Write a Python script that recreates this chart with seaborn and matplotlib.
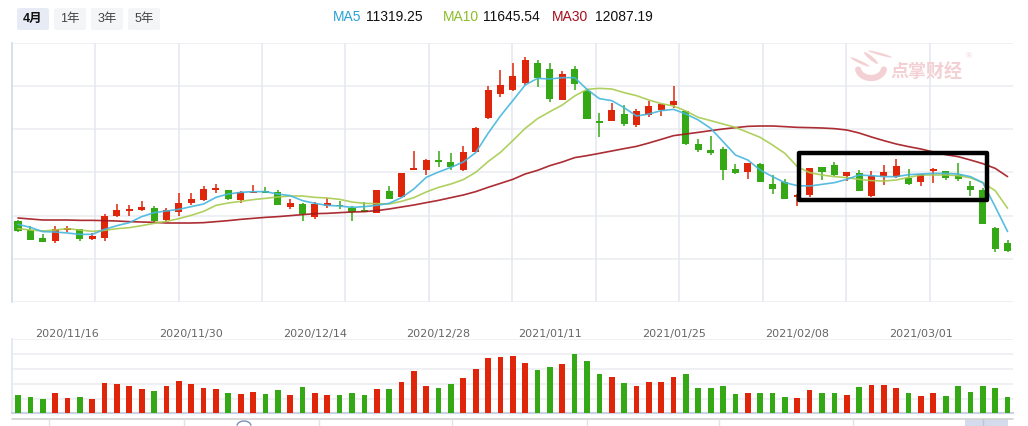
import numpy as np
import matplotlib
matplotlib.use("Agg")
import matplotlib.pyplot as plt
import matplotlib.transforms as mtransforms
from matplotlib.patches import Rectangle, FancyBboxPatch, Ellipse, Wedge
from matplotlib.lines import Line2D
import seaborn as sns

# ---------------- data ----------------
opens = [11466, 11340, 11228, 11191, 11340, 11354, 11214, 11228, 11536, 11606,
         11620, 11653, 11480, 11597, 11718, 11760, 11900, 11900, 11760, 11858,
         11886, 11872, 11667, 11704, 11527, 11681, 11695, 11653, 11620, 11583,
         11886, 11802, 12185, 12185, 12320, 12292, 12185, 12437, 12908, 13249,
         13300, 13403, 13678, 13594, 13165, 13594, 13286, 12866, 12871, 12964,
         12815, 12955, 13025, 13090, 13006, 12544, 12460, 12474, 12194, 12157,
         12264, 11984, 12012, 11807, 11835, 12222, 12245, 12096, 12138, 11821,
         12101, 12087, 12073, 12017, 12171, 12166, 12115, 11961, 11905, 11373,
         11158]
highs = [11480, 11396, 11284, 11396, 11396, 11360, 11303, 11569, 11709, 11695,
         11746, 11681, 11648, 11858, 11858, 11961, 11984, 11905, 11891, 11970,
         11942, 11905, 11774, 11723, 11732, 11783, 11746, 11681, 11727, 11905,
         11961, 12140, 12451, 12339, 12446, 12418, 12516, 12782, 13356, 13580,
         13678, 13762, 13720, 13678, 13566, 13636, 13300, 12978, 13118, 13090,
         13034, 13146, 13110, 13356, 13010, 12614, 12651, 12507, 12264, 12283,
         12273, 12115, 12059, 11849, 12213, 12227, 12292, 12157, 12180, 12166,
         12250, 12334, 12194, 12129, 12208, 12171, 12278, 12026, 11928, 11378,
         11200]
lows = [11312, 11195, 11167, 11163, 11307, 11186, 11200, 11186, 11527, 11536,
        11606, 11457, 11452, 11536, 11690, 11751, 11858, 11760, 11723, 11853,
        11853, 11685, 11634, 11466, 11494, 11653, 11634, 11466, 11590, 11573,
        11770, 11795, 12180, 12115, 12227, 12185, 12171, 12427, 12899, 13207,
        13286, 13375, 13347, 13132, 13160, 13305, 12894, 12647, 12861, 12801,
        12787, 12927, 12941, 13048, 12530, 12437, 12395, 12045, 12129, 12059,
        12012, 11849, 11774, 11681, 11807, 12045, 12101, 12031, 11886, 11807,
        11975, 12073, 11975, 11961, 12003, 12045, 12031, 11821, 11424, 11037,
        11027]
closes = [11331, 11200, 11177, 11354, 11373, 11214, 11261, 11541, 11620, 11634,
          11662, 11466, 11620, 11718, 11774, 11914, 11928, 11774, 11872, 11877,
          11858, 11695, 11718, 11564, 11709, 11718, 11671, 11597, 11597, 11900,
          11774, 12138, 12208, 12320, 12297, 12227, 12432, 12768, 13300, 13370,
          13496, 13720, 13473, 13179, 13524, 13389, 12899, 12843, 13020, 12829,
          13006, 13076, 13104, 13146, 12544, 12465, 12423, 12185, 12143, 12278,
          12017, 11919, 11779, 11821, 12208, 12157, 12115, 12152, 11891, 12091,
          12152, 12236, 11989, 12124, 12185, 12073, 12059, 11905, 11429, 11079,
          11041]
ma5 = [11419, 11377, 11317, 11312, 11298, 11279, 11279, 11349, 11401, 11443,
       11527, 11583, 11606, 11629, 11667, 11704, 11797, 11844, 11867, 11877,
       11877, 11844, 11821, 11751, 11713, 11685, 11676, 11657, 11667, 11685,
       11713, 11793, 11914, 12077, 12152, 12217, 12292, 12423, 12693, 12936,
       13151, 13370, 13463, 13454, 13473, 13473, 13309, 13179, 13151, 13053,
       12936, 12964, 13011, 13029, 12964, 12880, 12763, 12577, 12390, 12320,
       12180, 12087, 12003, 11961, 11956, 11979, 12003, 12049, 12110, 12101,
       12087, 12087, 12115, 12124, 12133, 12133, 12124, 12087, 12003, 11667,
       11319.25]
ma10 = [11359, 11340, 11326, 11340, 11359, 11340, 11321, 11335, 11359, 11373,
        11401, 11433, 11461, 11499, 11545, 11601, 11685, 11718, 11741, 11765,
        11783, 11802, 11816, 11816, 11797, 11788, 11769, 11732, 11713, 11709,
        11704, 11741, 11793, 11872, 11937, 11984, 12045, 12147, 12297, 12427,
        12591, 12763, 12899, 12997, 13090, 13216, 13309, 13323, 13314, 13263,
        13221, 13160, 13109, 13076, 13006, 12917, 12871, 12824, 12777, 12707,
        12637, 12530, 12413, 12227, 12143, 12110, 12087, 12073, 12049, 12031,
        12026, 12040, 12077, 12110, 12110, 12110, 12101, 12070, 12003, 11891,
        11645.54]
ma30 = [11508, 11494, 11480, 11480, 11480, 11475, 11475, 11471, 11466, 11457,
        11452, 11447, 11438, 11438, 11438, 11443, 11457, 11471, 11489, 11503,
        11517, 11527, 11541, 11555, 11569, 11573, 11583, 11592, 11597, 11611,
        11634, 11662, 11690, 11723, 11755, 11793, 11830, 11877, 11937, 11993,
        12049, 12124, 12175, 12241, 12292, 12353, 12381, 12413, 12446, 12479,
        12511, 12558, 12609, 12661, 12684, 12707, 12731, 12754, 12773, 12791,
        12796, 12796, 12787, 12777, 12773, 12768, 12759, 12740, 12698, 12642,
        12591, 12544, 12507, 12474, 12432, 12395, 12367, 12320, 12269, 12203,
        12087.19]
volumes = [55, 49, 43, 61, 46, 49, 43, 91, 88, 82, 73, 67, 82, 97, 88, 76, 73,
           61, 58, 64, 58, 70, 55, 79, 61, 55, 55, 61, 55, 73, 73, 94, 127, 82,
           76, 88, 106, 133, 166, 169, 172, 152, 130, 139, 148, 178, 157, 118,
           109, 91, 82, 94, 94, 109, 118, 76, 76, 82, 58, 61, 61, 61, 49, 46,
           70, 61, 61, 55, 79, 85, 85, 76, 61, 52, 61, 52, 82, 64, 82, 76, 49]
date_labels = ["2020/11/16", "2020/11/30", "2020/12/14", "2020/12/28",
               "2021/01/11", "2021/01/25", "2021/02/08", "2021/03/01"]
date_label_index = [4, 14, 24, 34, 43, 53, 63, 73]
period_buttons = ["4月", "1年", "3年", "5年"]
ma_names = ["MA5", "MA10", "MA30"]
ma_last = ["11319.25", "11645.54", "12087.19"]
box_range = (63.1, 78.35, 11760, 12418)   # highlighted consolidation range

# ---------------- style ----------------
RED = "#e0260a"
GREEN = "#35a915"
C_MA5 = "#45b6de"
C_MA10 = "#a8cb4f"
C_MA30 = "#a3161d"

sns.set_theme(style="white")
plt.rcParams['font.family'] = ['Liberation Sans', 'Noto Sans CJK SC', 'DejaVu Sans']

W, H = 1028, 426
fig = plt.figure(figsize=(W / 100, H / 100), dpi=100)
fig.patch.set_facecolor("white")


def fx(px):
    return px / W


def fy(py):
    return 1 - py / H


X0, X1 = 11.7, 1013
ax = fig.add_axes([fx(X0), fy(302), fx(X1) - fx(X0), fy(43) - fy(302)])
axv = fig.add_axes([fx(X0), fy(413.3), fx(X1) - fx(X0), fy(339.3) - fy(413.3)])

n = len(closes)
idx = np.arange(n)
o = np.array(opens, float)
c = np.array(closes, float)
hi = np.array(highs, float)
lo = np.array(lows, float)
up = c >= o
cols = np.where(up, RED, GREEN)

xl0, xl1 = -0.51, 80.44
ylo, yhi = 10332, 13958

# grid
ax.set_xlim(xl0, xl1)
ax.set_ylim(ylo, yhi)
for yv in np.linspace(ylo, yhi, 7):
    ax.axhline(yv, color="#eef0f4", lw=1.4, zorder=0)
for k in range(1, 12):
    ax.axvline(xl0 + k * (xl1 - xl0) / 12, color="#e3e8f0", lw=1.1, zorder=0)
for s in ["top", "right", "bottom"]:
    ax.spines[s].set_visible(False)
ax.spines["left"].set_color("#d3dae6")
ax.spines["left"].set_linewidth(1.2)
ax.set_xticks([])
ax.set_yticks([])

# candles
ax.vlines(idx, lo, hi, colors=cols, lw=1.1, zorder=3)
body_bottom = np.minimum(o, c)
body_h = np.maximum(np.abs(c - o), 18)
ax.bar(idx, body_h, bottom=body_bottom, width=0.57, color=cols, lw=0, zorder=4)

# moving averages
sns.lineplot(x=idx, y=ma30, color=C_MA30, lw=1.2, ax=ax, zorder=5, alpha=0.9)
sns.lineplot(x=idx, y=ma10, color=C_MA10, lw=1.2, ax=ax, zorder=5, alpha=0.9)
sns.lineplot(x=idx, y=ma5, color=C_MA5, lw=1.2, ax=ax, zorder=5, alpha=0.9)
ax.set_xlim(xl0, xl1)
ax.set_ylim(ylo, yhi)
ax.set_xlabel("")
ax.set_ylabel("")

# highlight box
bx0, bx1, by0, by1 = box_range
ax.add_patch(Rectangle((bx0, by0), bx1 - bx0, by1 - by0, fill=False,
                       ec="black", lw=3.2, zorder=7, joinstyle="round"))

# volume
direction = np.where(up, "up", "down")
sns.barplot(x=idx, y=volumes, hue=direction, palette={"up": RED, "down": GREEN},
            native_scale=True, dodge=False, width=0.46, saturation=1,
            errorbar=None, legend=False, ax=axv, zorder=3, linewidth=0)
axv.set_xlim(xl0, xl1)
axv.set_ylim(0, 222)
for yv in np.linspace(0, 222, 6)[1:]:
    axv.axhline(yv, color="#eef0f4", lw=1.4, zorder=0)
for s in ["top", "right"]:
    axv.spines[s].set_visible(False)
axv.spines["left"].set_color("#e2e6ee")
axv.spines["bottom"].set_color("#cbd2e2")
axv.spines["bottom"].set_linewidth(1.6)
axv.set_xticks([])
axv.set_yticks([])
axv.set_xlabel("")
axv.set_ylabel("")

# date labels
trans = mtransforms.blended_transform_factory(axv.transData, fig.transFigure)
for i, lab in zip(date_label_index, date_labels):
    axv.text(i, fy(334), lab, transform=trans, ha="center", va="center",
             fontsize=8, color="#666666", family="DejaVu Sans")

# header buttons
btn_x = [17, 54, 91, 128]
for k, (bxp, lab) in enumerate(zip(btn_x, period_buttons)):
    fc = "#e6ebf5" if k == 0 else "#f4f5f6"
    fig.add_artist(FancyBboxPatch((fx(bxp), fy(30)), fx(32), fy(8) - fy(30),
                                  boxstyle="round,pad=0,rounding_size=0.004",
                                  transform=fig.transFigure, fc=fc, ec="none"))
    fig.text(fx(bxp + 16), fy(19), lab, ha="center", va="center", fontsize=9,
             color="#111111" if k == 0 else "#444444",
             weight="bold" if k == 0 else "normal")

# MA legend header
ma_cols = ["#2aa1d5", "#8dbb2a", "#a3101f"]
name_x = [333, 443, 552]
val_x = [366, 483, 595]
for nm, val, cc, nx, vx in zip(ma_names, ma_last, ma_cols, name_x, val_x):
    fig.text(fx(nx), fy(17), nm, ha="left", va="center", fontsize=10, color=cc)
    fig.text(fx(vx), fy(17), val, ha="left", va="center", fontsize=10, color="#111111")

# watermark
wm = "#f3d0d3"
fig.text(fx(926), fy(72), "点掌财经", ha="center", va="center", fontsize=13,
         color=wm, weight="bold", family=["Noto Sans CJK SC"])
fig.text(fx(969), fy(57), "®", ha="center", va="center", fontsize=6, color=wm)
for (ex, ey, ew, eh, ang) in [(860, 62, 5, 12, 40), (871, 58, 5, 13, 25),
                              (880, 54, 5, 12, 55)]:
    fig.add_artist(Ellipse((fx(ex), fy(ey)), fx(ew), fy(0) - fy(eh), angle=ang,
                           transform=fig.transFigure, fc=wm, ec="none"))
# palm: crescent shape
th = np.linspace(np.pi * 1.05, np.pi * 1.95, 30)
pxs = 871 + 13 * np.cos(th)
pys = 68 - 10 * np.sin(th)
fig.add_artist(Line2D(fx(pxs), fy(pys), color=wm, lw=4.5, solid_capstyle="round",
                      transform=fig.transFigure))

# bottom slider strip
fig.add_artist(Line2D([fx(12), fx(1013)], [fy(418.5)] * 2, color="#d2d2d2", lw=1.2,
                      transform=fig.transFigure))
for sx in [49, 184, 319, 452, 587, 719, 853]:
    fig.add_artist(Line2D([fx(sx)] * 2, [fy(418.5), fy(426)], color="#e2e2e2", lw=1,
                          transform=fig.transFigure))
fig.add_artist(Rectangle((fx(965), fy(426)), fx(43), fy(418.5) - fy(426),
                         transform=fig.transFigure, fc="#d3dbec", ec="none"))
fig.add_artist(Line2D([fx(983)] * 2, [fy(418.5), fy(426)], color="#bcc6da", lw=1,
                      transform=fig.transFigure))
th2 = np.linspace(0.15, np.pi - 0.15, 20)
fig.add_artist(Line2D(fx(244 + 7 * np.cos(th2)), fy(426 - 5 * np.sin(th2)),
                      color="#7d90b5", lw=1, transform=fig.transFigure))

fig.savefig("out.png", dpi=100, facecolor="white")
